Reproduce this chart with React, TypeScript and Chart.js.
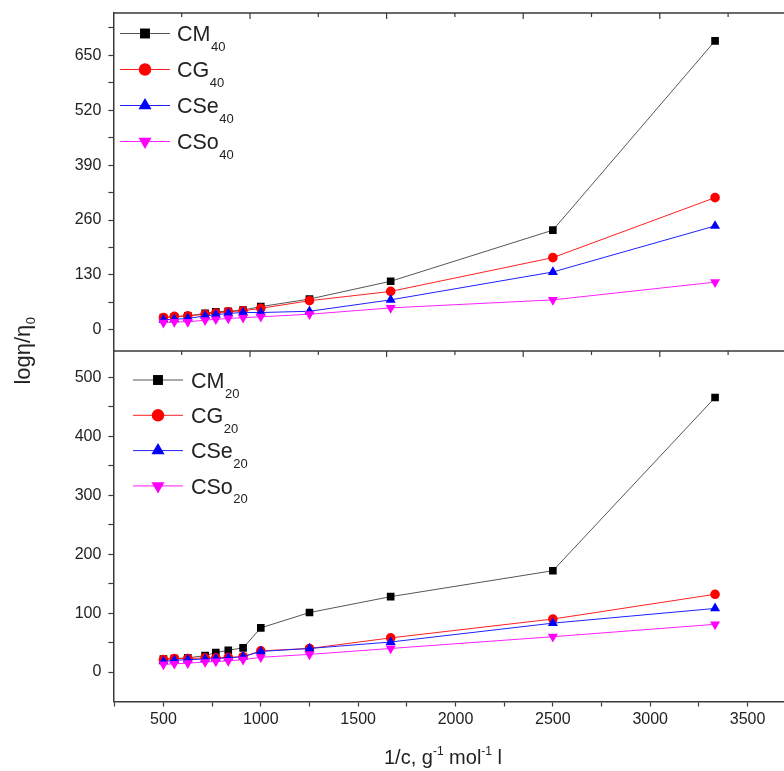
import React, { useEffect, useRef } from "react";
import { Chart, registerables } from "chart.js";

Chart.register(...registerables);

// ---------- data ----------
const invConc = [500, 556, 625, 714, 769, 833, 909, 1000, 1250, 1667, 2500, 3333];

const cm40 = [29, 31, 33, 39, 43, 44, 47, 55, 73, 115, 236, 684];
const cg40 = [29, 32, 33, 37, 40, 43, 45, 51, 69, 91, 171, 313];
const cse40 = [24, 25, 27, 33, 36, 39, 41, 41, 44, 71, 137, 246];
const cso40 = [17, 19, 19, 23, 25, 27, 29, 31, 37, 52, 71, 113];

const cm20 = [22, 23, 24, 28, 33, 37, 41, 75, 101, 128, 172, 466];
const cg20 = [21, 23, 23, 24, 24, 25, 26, 36, 40, 58, 90, 132];
const cse20 = [18, 20, 21, 22, 23, 24, 26, 35, 40, 51, 83, 108];
const cso20 = [13, 14, 15, 17, 18, 19, 21, 25, 30, 40, 60, 81];

const seriesNames = ["CM", "CG", "CSe", "CSo"];
const topSub = "40";
const bottomSub = "20";

const xTickValues = [250, 500, 750, 1000, 1250, 1500, 1750, 2000, 2250, 2500, 2750, 3000, 3250, 3500, 3750];
const xLabelStep = 500;
const yTopTickValues = [0, 65, 130, 195, 260, 325, 390, 455, 520, 585, 650, 715];
const yTopLabelStep = 130;
const yBottomTickValues = [0, 50, 100, 150, 200, 250, 300, 350, 400, 450, 500];
const yBottomLabelStep = 100;

const yTitleMain = "logη/η";
const yTitleSub = "0";
const xTitleParts: [string, boolean][] = [
  ["1/c, g", false],
  ["-1", true],
  [" mol", false],
  ["-1", true],
  [" l", false],
];

// ---------- styles ----------
const FONT = "'Liberation Sans', Arial, sans-serif";
const FRAME = "#3a3a3a";
const TEXT = "#222";
const lineColors = ["#555555", "#ff2020", "#2020ff", "#ff20ff"];
const pointColors = ["#000000", "#ff0000", "#0000ff", "#ff00ff"];
const pointStyles = ["rect", "circle", "triangle", "triangle"];
const pointRotations = [0, 0, 0, 180];
const pointRadii = [5.4, 4.8, 5.8, 5.8];

function makeSets(values: number[][], axis: string, sub: string) {
  return values.map((vals, i) => ({
    label: seriesNames[i] + sub,
    legendName: seriesNames[i],
    legendSub: sub,
    panel: axis,
    data: invConc.map((x, j) => ({ x, y: vals[j] })),
    yAxisID: axis,
    borderColor: lineColors[i],
    borderWidth: 1,
    backgroundColor: pointColors[i],
    pointBackgroundColor: pointColors[i],
    pointBorderColor: pointColors[i],
    pointBorderWidth: 0,
    pointStyle: pointStyles[i],
    pointRotation: pointRotations[i],
    pointRadius: pointRadii[i],
    order: 4 - i,
    tension: 0,
  }));
}

function drawMarker(ctx: CanvasRenderingContext2D, style: string, rot: number, x: number, y: number, r: number, color: string) {
  ctx.save();
  ctx.fillStyle = color;
  ctx.beginPath();
  if (style === "rect") {
    const s = r * Math.SQRT1_2;
    ctx.rect(x - s, y - s, 2 * s, 2 * s);
  } else if (style === "circle") {
    ctx.arc(x, y, r, 0, Math.PI * 2);
  } else {
    const dir = rot === 180 ? 1 : -1;
    const a = (2 * Math.PI) / 3;
    for (let k = 0; k < 3; k++) {
      const ang = k * a;
      const px = x + Math.sin(ang) * r;
      const py = y + dir * Math.cos(ang) * r;
      if (k === 0) ctx.moveTo(px, py);
      else ctx.lineTo(px, py);
    }
    ctx.closePath();
  }
  ctx.fill();
  ctx.restore();
}

const topAxisDivisions = 10;

const framePlugin = {
  id: "framePlugin",
  afterDraw(chart: any) {
    const ctx: CanvasRenderingContext2D = chart.ctx;
    const area = chart.chartArea;
    const yTop = chart.scales.yTop;
    const divY = yTop.bottom;
    ctx.save();
    ctx.strokeStyle = FRAME;
    ctx.lineWidth = 1.5;
    ctx.beginPath();
    ctx.moveTo(area.left, area.top);
    ctx.lineTo(area.right, area.top);
    ctx.moveTo(area.left, divY);
    ctx.lineTo(area.right, divY);
    ctx.stroke();
    ctx.lineWidth = 1.2;
    ctx.beginPath();
    const tickSpan = 683;
    for (let k = 1; k < topAxisDivisions; k++) {
      const x = area.left + (k * tickSpan) / topAxisDivisions;
      const len = k % 2 === 0 ? 6 : 4;
      ctx.moveTo(x, area.top);
      ctx.lineTo(x, area.top + len);
      ctx.moveTo(x, divY);
      ctx.lineTo(x, divY + len);
    }
    ctx.stroke();

    // legends
    const legendCfg: Record<string, { x0: number; x1: number; tx: number; y0: number; dy: number; fs: number }> = {
      yTop: { x0: 120, x1: 170, tx: 177, y0: 33.5, dy: 36, fs: 21.5 },
      yBottom: { x0: 133, x1: 183, tx: 191, y0: 380, dy: 35.3, fs: 21.5 },
    };
    Object.keys(legendCfg).forEach((panel) => {
      const c = legendCfg[panel];
      const sets = chart.data.datasets.filter((d: any) => d.panel === panel);
      sets.forEach((d: any, i: number) => {
        const y = c.y0 + i * c.dy;
        ctx.strokeStyle = d.borderColor;
        ctx.lineWidth = 1;
        ctx.beginPath();
        ctx.moveTo(c.x0, y);
        ctx.lineTo(c.x1, y);
        ctx.stroke();
        drawMarker(ctx, d.pointStyle, d.pointRotation, (c.x0 + c.x1) / 2, y, d.pointRadius * 1.3, d.pointBackgroundColor);
        ctx.fillStyle = TEXT;
        ctx.textAlign = "left";
        ctx.textBaseline = "alphabetic";
        ctx.font = `${c.fs}px ${FONT}`;
        ctx.fillText(d.legendName, c.tx, y + 7.8);
        const w = ctx.measureText(d.legendName).width;
        ctx.font = `13px ${FONT}`;
        ctx.fillText(d.legendSub, c.tx + w + 0.5, y + 17.5);
      });
    });

    // y title
    ctx.save();
    ctx.translate(30, 351);
    ctx.rotate(-Math.PI / 2);
    ctx.fillStyle = TEXT;
    ctx.font = `22px ${FONT}`;
    const wMain = ctx.measureText(yTitleMain).width;
    ctx.font = `13px ${FONT}`;
    const wSub = ctx.measureText(yTitleSub).width;
    const start = -(wMain + wSub) / 2;
    ctx.textAlign = "left";
    ctx.textBaseline = "alphabetic";
    ctx.font = `22px ${FONT}`;
    ctx.fillText(yTitleMain, start, 0);
    ctx.font = `13px ${FONT}`;
    ctx.fillText(yTitleSub, start + wMain + 0.5, 5);
    ctx.restore();

    // x title
    let total = 0;
    xTitleParts.forEach(([t, sup]) => {
      ctx.font = `${sup ? 12 : 20}px ${FONT}`;
      total += ctx.measureText(t).width;
    });
    let x = 443 - total / 2;
    ctx.fillStyle = TEXT;
    ctx.textAlign = "left";
    ctx.textBaseline = "alphabetic";
    xTitleParts.forEach(([t, sup]) => {
      ctx.font = `${sup ? 12 : 20}px ${FONT}`;
      ctx.fillText(t, x, sup ? 755 : 764);
      x += ctx.measureText(t).width;
    });
    ctx.restore();
  },
};

function yFit(s: any) {
  s.width = 113.4;
  s.paddingTop = 0;
  s.paddingBottom = 0;
}

export default function App() {
  const ref = useRef<HTMLCanvasElement | null>(null);
  useEffect(() => {
    if (!ref.current) return;
    const datasets = [
      ...makeSets([cm40, cg40, cse40, cso40], "yTop", topSub),
      ...makeSets([cm20, cg20, cse20, cso20], "yBottom", bottomSub),
    ];
    const tickFont = { family: FONT, size: 16 };
    const chart = new Chart(ref.current, {
      type: "line",
      data: { datasets: datasets as any },
      options: {
        animation: false,
        responsive: false,
        devicePixelRatio: 1,
        layout: { padding: { top: 13, right: 0, bottom: 0, left: 0 } },
        plugins: { legend: { display: false }, tooltip: { enabled: false } },
        scales: {
          x: {
            type: "linear",
            min: 243,
            max: 3760,
            afterBuildTicks: (s: any) => {
              s.ticks = xTickValues.map((v) => ({ value: v }));
            },
            afterFit: (s: any) => {
              s.height = 69.5;
            },
            ticks: {
              autoSkip: false,
              maxRotation: 0,
              color: TEXT,
              font: tickFont,
              padding: 3,
              callback: (v: any) => (v % xLabelStep === 0 ? String(v) : ""),
            },
            grid: { drawOnChartArea: false, drawTicks: true, tickLength: 5, color: FRAME, tickWidth: 1.2 },
            border: { display: true, color: FRAME, width: 1.5 },
          },
          yBottom: {
            type: "linear",
            position: "left",
            stack: "panels",
            stackWeight: 350,
            min: -50,
            max: 545,
            afterBuildTicks: (s: any) => {
              s.ticks = yBottomTickValues.map((v) => ({ value: v }));
            },
            afterFit: yFit,
            ticks: {
              autoSkip: false,
              color: TEXT,
              font: tickFont,
              padding: 7,
              callback: (v: any) => (v % yBottomLabelStep === 0 ? String(v) : ""),
            },
            grid: { drawOnChartArea: false, drawTicks: true, tickLength: 5, color: FRAME, tickWidth: 1.2 },
            border: { display: true, color: FRAME, width: 1.5 },
          },
          yTop: {
            type: "linear",
            position: "left",
            stack: "panels",
            stackWeight: 337.5,
            min: -50,
            max: 750,
            afterBuildTicks: (s: any) => {
              s.ticks = yTopTickValues.map((v) => ({ value: v }));
            },
            afterFit: yFit,
            ticks: {
              autoSkip: false,
              color: TEXT,
              font: tickFont,
              padding: 7,
              callback: (v: any) => (v % yTopLabelStep === 0 ? String(v) : ""),
            },
            grid: { drawOnChartArea: false, drawTicks: true, tickLength: 5, color: FRAME, tickWidth: 1.2 },
            border: { display: true, color: FRAME, width: 1.5 },
          },
        },
      } as any,
      plugins: [framePlugin as any],
    });
    return () => chart.destroy();
  }, []);

  return (
    <div style={{ position: "absolute", left: 0, top: 0, width: 784, height: 771, overflow: "hidden", background: "#fff" }}>
      <canvas ref={ref} width={804} height={771} style={{ display: "block", width: 804, height: 771 }} />
    </div>
  );
}
